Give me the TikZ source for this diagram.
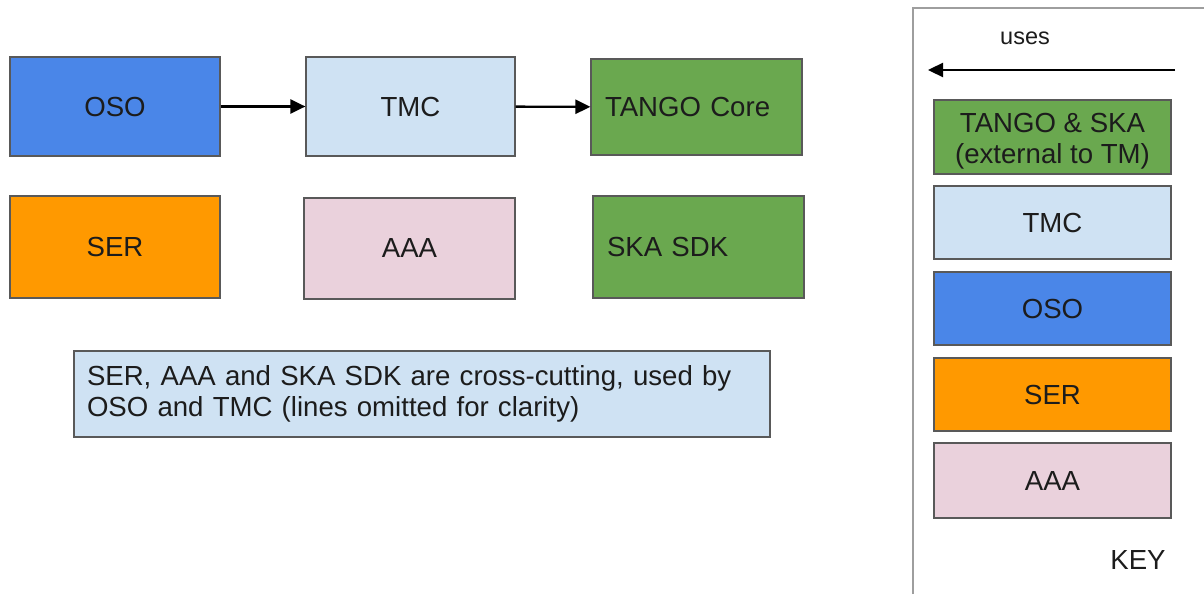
\documentclass[tikz,border=0pt]{standalone}
\usepackage{fontspec}
\setmainfont{Liberation Sans}
\usetikzlibrary{arrows.meta}
\definecolor{cblue}{HTML}{4A86E8}
\definecolor{clblue}{HTML}{CFE2F3}
\definecolor{cgreen}{HTML}{6AA84F}
\definecolor{corange}{HTML}{FF9900}
\definecolor{cpink}{HTML}{EAD1DC}
\definecolor{cline}{HTML}{595959}
\definecolor{cframe}{HTML}{9E9E9E}
\definecolor{ctext}{HTML}{1C1C1C}
\begin{document}
\begin{tikzpicture}[x=1pt,y=-1pt,
  box/.style={draw=cline, line width=1.2pt, inner sep=0pt, text=ctext, font=\fontsize{27.6}{31}\selectfont, align=center},
  leftbox/.style={box, align=left, inner xsep=14pt},
  txt/.style={inner sep=0pt, text=ctext, font=\fontsize{27.6}{31}\selectfont, align=center},
  uses/.style={line width=2.4pt, -{Triangle[length=15pt,width=14pt]}}
]
\useasboundingbox (0,0) rectangle (1204,594);
% main diagram
\node[box, fill=cblue, minimum width=210pt, minimum height=99pt] (oso) at (115,106.5) {OSO};
\node[box, fill=clblue, minimum width=209pt, minimum height=99pt] (tmc) at (410.5,106.5) {TMC};
\node[leftbox, fill=cgreen, text width=183pt, minimum height=96pt] (tango) at (696.5,107) {TANGO Core};
\node[box, fill=corange, minimum width=210pt, minimum height=102pt] (ser) at (115,247) {SER};
\node[box, fill=cpink, minimum width=211pt, minimum height=101pt] (aaa) at (409.5,248.5) {AAA};
\node[leftbox, fill=cgreen, text width=183pt, minimum height=102pt] (sdk) at (698.5,247) {SKA SDK};
\node[leftbox, fill=clblue, text width=670pt, minimum height=86pt, inner xsep=13pt] (note) at (422,394) {SER, AAA and SKA SDK are cross-cutting, used by\\OSO and TMC (lines omitted for clarity)};
\draw[uses] (oso) -- (tmc);
\draw[uses] (tmc) -- (tango);
% key
\draw[cframe, line width=1.5pt] (913,594) -- (913,8) -- (1204,8);
\node[text=ctext, font=\fontsize{23.5}{28}\selectfont] (usestext) at (1025,38) {uses};
\coordinate (ua) at (1175,70);
\coordinate (ub) at (928,70);
\draw[uses] (ua) -- (ub);
\node[box, fill=cgreen, minimum width=237pt, minimum height=74pt] (k1) at (1052.5,137) {};
\node[txt] (k1t) at (1052.5,141) {TANGO \& SKA\\(external to TM)};
\node[box, fill=clblue, minimum width=237pt, minimum height=73pt] (k2) at (1052.5,222.5) {TMC};
\node[box, fill=cblue, minimum width=237pt, minimum height=73pt] (k3) at (1052.5,308.5) {OSO};
\node[box, fill=corange, minimum width=237pt, minimum height=73pt] (k4) at (1052.5,394.5) {SER};
\node[box, fill=cpink, minimum width=237pt, minimum height=75pt] (k5) at (1052.5,480.5) {AAA};
\node[txt] (key) at (1138,560) {KEY};
\end{tikzpicture}
\end{document}
